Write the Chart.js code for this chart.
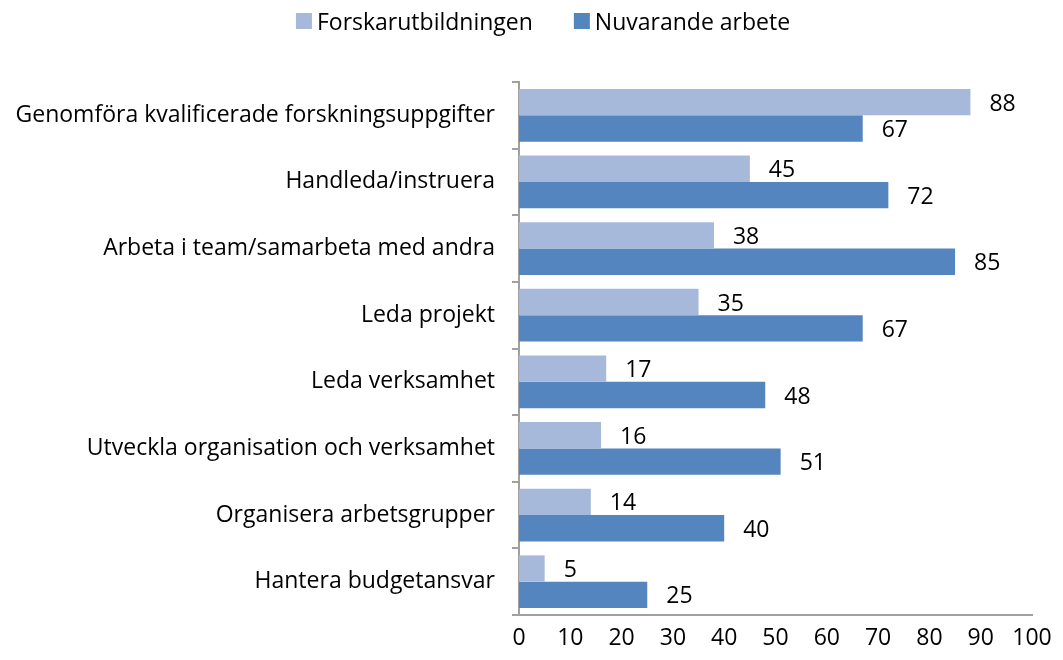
<!DOCTYPE html>
<html>
<head>
<meta charset="utf-8">
<script src="https://cdn.jsdelivr.net/npm/chart.js@4"></script>
<style>
html,body{margin:0;padding:0;background:#fff;}
#wrap{width:1063px;height:660px;position:relative;}
</style>
</head>
<body>
<div id="wrap"><canvas id="c" width="1063" height="660"></canvas></div>
<script>
const categories = [
  "Genomföra kvalificerade forskningsuppgifter",
  "Handleda/instruera",
  "Arbeta i team/samarbeta med andra",
  "Leda projekt",
  "Leda verksamhet",
  "Utveckla organisation och verksamhet",
  "Organisera arbetsgrupper",
  "Hantera budgetansvar"
];
const forskarutbildningen = [88, 45, 38, 35, 17, 16, 14, 5];
const nuvarandeArbete = [67, 72, 85, 67, 48, 51, 40, 25];
const seriesNames = ["Forskarutbildningen", "Nuvarande arbete"];

const FONT = "'Open Sans', sans-serif";
const FS = 23;
const LFS = 23;
const AXIS = "#A0A0A0";

const customLegend = {
  id: 'customLegend',
  afterDraw(chart) {
    const ctx = chart.ctx;
    ctx.save();
    ctx.font = LFS + "px " + FONT;
    ctx.textBaseline = "middle";
    ctx.textAlign = "left";
    const box = 16, gapText = 5, gapItem = 41;
    const items = chart.data.datasets.map(ds => ({ text: ds.label, color: ds.backgroundColor, w: ctx.measureText(ds.label).width }));
    let total = 0;
    items.forEach((it, i) => { total += box + gapText + it.w + (i ? gapItem : 0); });
    let x = 543 - total / 2;
    const cy = 21;
    items.forEach((it, i) => {
      if (i) x += gapItem;
      ctx.fillStyle = it.color;
      ctx.fillRect(x, cy - 8, box, box);
      x += box + gapText;
      ctx.fillStyle = "#000";
      ctx.fillText(it.text, x, cy + 2);
      x += it.w;
    });
    ctx.restore();
  }
};

const valueLabels = {
  id: 'valueLabels',
  afterDatasetsDraw(chart) {
    const ctx = chart.ctx;
    ctx.save();
    ctx.font = FS + "px " + FONT;
    ctx.fillStyle = "#000";
    ctx.textAlign = "left";
    ctx.textBaseline = "middle";
    chart.data.datasets.forEach((ds, i) => {
      chart.getDatasetMeta(i).data.forEach((bar, j) => {
        ctx.fillText(String(ds.data[j]), bar.x + 19, bar.y + 2);
      });
    });
    ctx.restore();
  }
};

new Chart(document.getElementById('c'), {
  type: 'bar',
  data: {
    labels: categories,
    datasets: [
      { label: seriesNames[0], data: forskarutbildningen, backgroundColor: "#A6B9DA", borderWidth: 0 },
      { label: seriesNames[1], data: nuvarandeArbete, backgroundColor: "#5585BE", borderWidth: 0 }
    ]
  },
  options: {
    indexAxis: 'y',
    responsive: false,
    animation: false,
    layout: { padding: { left: 0, right: 31, top: 82, bottom: 0 } },
    datasets: { bar: { categoryPercentage: 0.79, barPercentage: 1.0 } },
    plugins: {
      tooltip: { enabled: false },
      legend: { display: false }
    },
    scales: {
      x: {
        min: 0, max: 100,
        ticks: { stepSize: 10, font: { family: FONT, size: FS }, color: "#000", padding: 3 },
        grid: { display: false, drawOnChartArea: false, drawTicks: true, tickLength: 7, color: AXIS, lineWidth: 2 },
        border: { display: true, color: AXIS, width: 2 },
        afterFit(scale) { scale.height = 45; }
      },
      y: {
        offset: true,
        ticks: { font: { family: FONT, size: FS }, color: "#000", padding: 17 },
        grid: { display: true, drawOnChartArea: false, drawTicks: true, tickLength: 7, color: AXIS, lineWidth: 2, offset: true },
        border: { display: true, color: AXIS, width: 2 },
        afterFit(scale) { scale.width = 519; }
      }
    }
  },
  plugins: [customLegend, valueLabels]
});
</script>
</body>
</html>
